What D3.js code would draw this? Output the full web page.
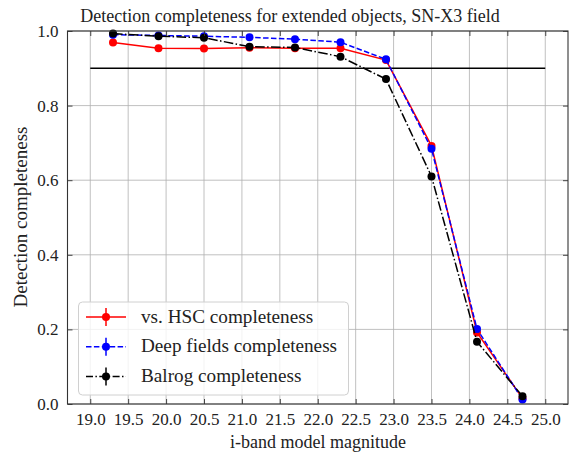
<!DOCTYPE html>
<html><head><meta charset="utf-8">
<script src="https://cdn.jsdelivr.net/npm/d3@7"></script>
<style>body{margin:0;background:#fff}svg{display:block}
svg text{font-family:"Liberation Serif","DejaVu Serif",serif !important;}
</style>
</head><body>
<script>
const mags = [19.3, 19.9, 20.5, 21.1, 21.7, 22.3, 22.9, 23.5, 24.1, 24.7];
const hscComp = [0.969, 0.954, 0.953, 0.955, 0.954, 0.954, 0.922, 0.692, 0.192, 0.015];
const deepComp = [0.990, 0.988, 0.986, 0.983, 0.978, 0.970, 0.924, 0.684, 0.201, 0.012];
const balrogComp = [0.993, 0.986, 0.982, 0.958, 0.956, 0.931, 0.871, 0.610, 0.167, 0.021];
const xTicks = [19.0, 19.5, 20.0, 20.5, 21.0, 21.5, 22.0, 22.5, 23.0, 23.5, 24.0, 24.5, 25.0];
const yTicks = [0.0, 0.2, 0.4, 0.6, 0.8, 1.0];
const seriesNames = ["vs. HSC completeness", "Deep fields completeness", "Balrog completeness"];
const threshold = 0.9;

const W = 570, H = 452;
const m = {left: 67.5, right: 568, top: 31, bottom: 404};
const svg = d3.select("body").append("svg").attr("width", W).attr("height", H);
const x = d3.scaleLinear().domain([18.7, 25.3]).range([m.left, m.right]);
const y = d3.scaleLinear().domain([0, 1]).range([m.bottom, m.top]);

// grid
const g = svg.append("g");
g.selectAll(".vg").data(xTicks).join("line")
  .attr("x1", d => x(d)).attr("x2", d => x(d)).attr("y1", m.top).attr("y2", m.bottom)
  .attr("stroke", "#b0b0b0").attr("stroke-width", 0.8);
g.selectAll(".hg").data(yTicks).join("line")
  .attr("y1", d => y(d)).attr("y2", d => y(d)).attr("x1", m.left).attr("x2", m.right)
  .attr("stroke", "#b0b0b0").attr("stroke-width", 0.8);

// threshold line
svg.append("line").attr("x1", x(19)).attr("x2", x(25)).attr("y1", y(threshold)).attr("y2", y(threshold))
  .attr("stroke", "#000").attr("stroke-width", 1.5);

const series = [
  {name: seriesNames[0], vals: hscComp, color: "#ff0000", dash: null},
  {name: seriesNames[1], vals: deepComp, color: "#0000ff", dash: "5.5,2.4"},
  {name: seriesNames[2], vals: balrogComp, color: "#000000", dash: "9.6,2.4,1.5,2.4"}
];
const line = d3.line().x((d, i) => x(mags[i])).y(d => y(d));
series.forEach(s => {
  svg.append("path").datum(s.vals).attr("d", line).attr("fill", "none")
    .attr("stroke", s.color).attr("stroke-width", 1.5).attr("stroke-dasharray", s.dash);
  svg.append("g").selectAll("circle").data(s.vals).join("circle")
    .attr("cx", (d, i) => x(mags[i])).attr("cy", d => y(d)).attr("r", 4).attr("fill", s.color);
});

// axes
const tickLen = 5;
const axCol = "#333";
const xb = d3.axisBottom(x).tickValues(xTicks).tickFormat(d3.format(".1f")).tickSizeInner(-tickLen).tickSizeOuter(0).tickPadding(9);
const xt = d3.axisTop(x).tickValues(xTicks).tickFormat("").tickSizeInner(-tickLen).tickSizeOuter(0);
const yl = d3.axisLeft(y).tickValues(yTicks).tickFormat(d3.format(".1f")).tickSizeInner(-tickLen).tickSizeOuter(0).tickPadding(9);
const yr = d3.axisRight(y).tickValues(yTicks).tickFormat("").tickSizeInner(-tickLen).tickSizeOuter(0);
function style(sel) {
  sel.attr("font-family", null);
  sel.select(".domain").remove();
  sel.selectAll("line").attr("stroke", axCol).attr("stroke-width", 0.9);
  sel.selectAll("text").attr("font-size", 17).attr("fill", "#222");
}
svg.append("g").attr("transform", `translate(0,${m.bottom})`).call(xb).call(style);
svg.append("g").attr("transform", `translate(0,${m.top})`).call(xt).call(style);
svg.append("g").attr("transform", `translate(${m.left},0)`).call(yl).call(style);
svg.append("g").attr("transform", `translate(${m.right},0)`).call(yr).call(style);
svg.append("rect").attr("x", m.left).attr("y", m.top).attr("width", m.right - m.left).attr("height", m.bottom - m.top)
  .attr("fill", "none").attr("stroke", axCol).attr("stroke-width", 1.1);

// legend
const lg = svg.append("g");
lg.append("rect").attr("x", 78.5).attr("y", 302).attr("width", 270).attr("height", 93).attr("rx", 4)
  .attr("fill", "#fff").attr("fill-opacity", 0.8).attr("stroke", "#d0d0d0").attr("stroke-width", 1);
series.forEach((s, i) => {
  const cy = 317 + i * 29.7;
  lg.append("line").attr("x1", 86).attr("x2", 126).attr("y1", cy).attr("y2", cy)
    .attr("stroke", s.color).attr("stroke-width", 1.5).attr("stroke-dasharray", s.dash ? (i === 1 ? "5.5,2.4" : "7,2.4,1.5,2.4") : null);
  lg.append("line").attr("x1", 106).attr("x2", 106).attr("y1", cy - 9).attr("y2", cy + 9)
    .attr("stroke", s.color).attr("stroke-width", 1.5);
  lg.append("circle").attr("cx", 106).attr("cy", cy).attr("r", 4).attr("fill", s.color);
  lg.append("text").attr("x", 141).attr("y", cy + 5.5).text(s.name)
    .attr("font-size", 19.2).attr("fill", "#222");
});

// titles
svg.append("text").attr("x", 290).attr("y", 22).attr("text-anchor", "middle").text("Detection completeness for extended objects, SN-X3 field")
  .attr("font-size", 18).attr("fill", "#222");
svg.append("text").attr("x", 318).attr("y", 448).attr("text-anchor", "middle").text("i-band model magnitude")
  .attr("font-size", 18).attr("fill", "#222");
svg.append("text").attr("transform", "translate(27,217) rotate(-90)").attr("text-anchor", "middle").text("Detection completeness")
  .attr("font-size", 19).attr("fill", "#222");
</script>
</body></html>
